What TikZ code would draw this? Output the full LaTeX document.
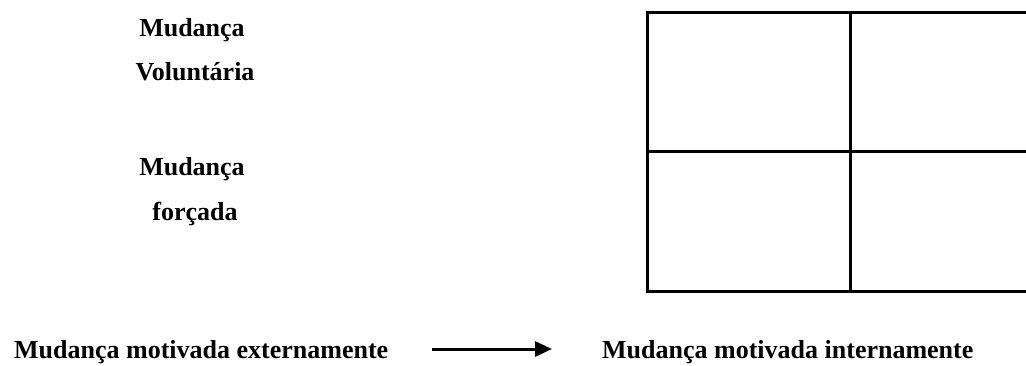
\documentclass[tikz,border=0pt]{standalone}
\usepackage{fontspec}
\setmainfont{Liberation Serif}
\usetikzlibrary{arrows.meta}
\tikzset{
  lbl/.style={inner sep=0pt, font=\bfseries\fontsize{26}{28}\selectfont},
  blbl/.style={inner sep=0pt, anchor=base west, font=\bfseries\fontsize{26}{28}\selectfont},
  gridline/.style={line width=3pt, line cap=rect},
  conn/.style={line width=3pt, -{Triangle[length=17pt,width=15pt]}}
}
\begin{document}
\begin{tikzpicture}[x=1pt,y=-1pt]
\useasboundingbox (0,0) rectangle (1026,365);
\clip (0,0) rectangle (1026,365);
% labels on the left
\node[lbl, anchor=base] (m1) at (192,36) {Mudança};
\node[lbl, anchor=base] (vol) at (195,80) {Voluntária};
\node[lbl, anchor=base] (m2) at (192,175) {Mudança};
\node[lbl, anchor=base] (forc) at (195,220) {forçada};
% grid
\draw[gridline] (647,12) rectangle (1040,291);
\draw[gridline] (850,12) -- (850,291);
\draw[gridline] (647,151) -- (1040,151);
% bottom row
\node[blbl] (ext) at (14,358) {Mudança motivada externamente};
\node[blbl] (int) at (602,358) {Mudança motivada internamente};
\coordinate (as) at (432,349);
\coordinate (ae) at (552,349);
\draw[conn] (as) -- (ae);
\end{tikzpicture}
\end{document}
